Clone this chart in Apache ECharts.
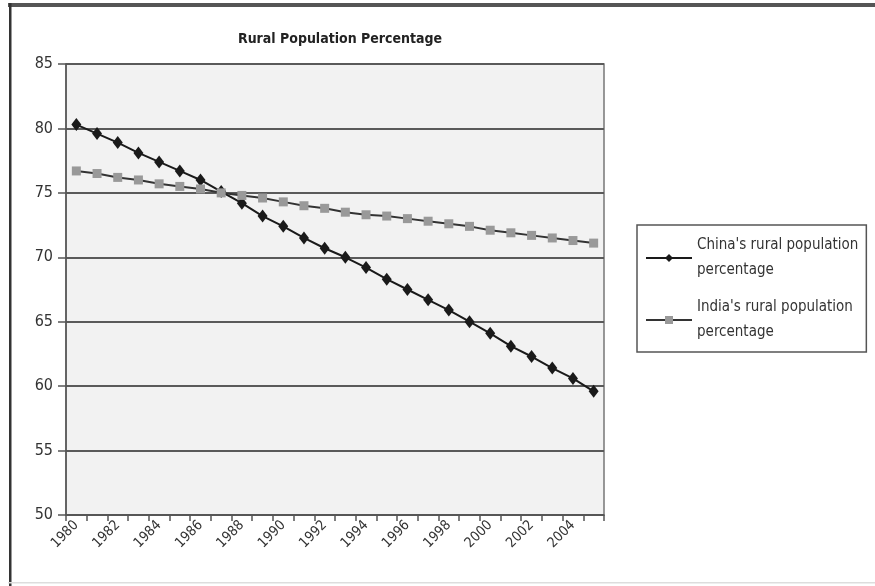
<!DOCTYPE html>
<html>
<head>
<meta charset="utf-8">
<script src="https://cdn.jsdelivr.net/npm/echarts@6/dist/echarts.min.js"></script>
<style>html,body{margin:0;padding:0;background:#fff}#c{width:875px;height:586px}</style>
</head>
<body>
<div id="c"></div>
<script>
const years = ["1980","1981","1982","1983","1984","1985","1986","1987","1988","1989","1990","1991","1992","1993","1994","1995","1996","1997","1998","1999","2000","2001","2002","2003","2004","2005"];
const china = [80.3,79.6,78.9,78.1,77.4,76.7,76.0,75.1,74.2,73.2,72.4,71.5,70.7,70.0,69.2,68.3,67.5,66.7,65.9,65.0,64.1,63.1,62.3,61.4,60.6,59.6];
const india = [76.7,76.5,76.2,76.0,75.7,75.5,75.3,75.0,74.8,74.6,74.3,74.0,73.8,73.5,73.3,73.2,73.0,72.8,72.6,72.4,72.1,71.9,71.7,71.5,71.3,71.1];
const yTicks = {min:50, max:85, interval:5};
const titleText = "Rural Population Percentage";
const chinaName = "China's rural population\npercentage";
const indiaName = "India's rural population\npercentage";

const FONT = "'Liberation Sans Narrow','DejaVu Sans Condensed','Roboto Condensed',sans-serif";
const chart = echarts.init(document.getElementById('c'));
chart.setOption({
  animation:false,
  backgroundColor:'#fff',
  title:{text:titleText,left:335,top:27,textAlign:'center',
    textStyle:{fontFamily:FONT,fontSize:14,fontWeight:'bold',color:'#222'}},
  grid:{left:66,right:271,top:64,bottom:71,show:true,backgroundColor:'#f2f2f2',borderColor:'#777',borderWidth:1.5},
  graphic:[
    {type:'rect',shape:{x:8,y:3,width:867,height:4},style:{fill:'#555'},silent:true},
    {type:'rect',shape:{x:9,y:3,width:2.5,height:583},style:{fill:'#333'},silent:true},
    {type:'rect',shape:{x:8,y:582,width:867,height:1.5},style:{fill:'#ddd'},silent:true}
  ],
  legend:{
    orient:'vertical',left:637,top:225,
    padding:[13,8,12,8],
    itemGap:22,
    itemWidth:46,itemHeight:10,
    borderColor:'#555',borderWidth:1.5,
    textStyle:{fontFamily:FONT,fontSize:15,color:'#333',lineHeight:25,padding:[0,0,-25,0]},
    data:[chinaName,indiaName]
  },
  xAxis:{
    type:'category',data:years,boundaryGap:true,
    axisLine:{lineStyle:{color:'#555',width:1.5}},
    axisTick:{show:true,interval:0,length:6,lineStyle:{color:'#555',width:1.5}},
    axisLabel:{interval:1,rotate:45,margin:8,fontFamily:FONT,fontSize:14,color:'#333'}
  },
  yAxis:{
    type:'value',min:yTicks.min,max:yTicks.max,interval:yTicks.interval,
    axisLine:{show:true,lineStyle:{color:'#555',width:1.5}},
    axisTick:{show:true,length:8,lineStyle:{color:'#555',width:1.5}},
    axisLabel:{margin:13,fontFamily:FONT,fontSize:16,color:'#333'},
    splitLine:{lineStyle:{color:'#5a5a5a',width:1.8}}
  },
  series:[
    {name:chinaName,type:'line',data:china,symbol:'diamond',symbolSize:[10,13],
      lineStyle:{color:'#1a1a1a',width:2},itemStyle:{color:'#1a1a1a'}},
    {name:indiaName,type:'line',data:india,symbol:'rect',symbolSize:9,
      lineStyle:{color:'#333',width:2},itemStyle:{color:'#999'}}
  ]
});
</script>
</body>
</html>
